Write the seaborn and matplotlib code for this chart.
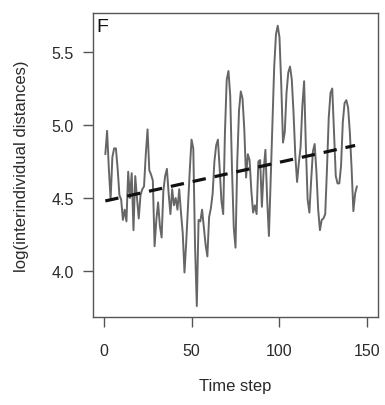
import numpy as np
import pandas as pd
import matplotlib
matplotlib.use("Agg")
import matplotlib.pyplot as plt
import seaborn as sns

# valores (paso de tiempo 1..144)
time_steps = list(range(1, 145))
log_dist = [
    4.80, 4.96, 4.70, 4.49, 4.78, 4.84, 4.84, 4.70, 4.52, 4.49,
    4.35, 4.42, 4.34, 4.68, 4.50, 4.67, 4.28, 4.65, 4.50, 4.36,
    4.52, 4.56, 4.58, 4.80, 4.97, 4.69, 4.66, 4.62, 4.17, 4.35,
    4.47, 4.31, 4.23, 4.55, 4.65, 4.70, 4.53, 4.39, 4.56, 4.45,
    4.50, 4.42, 4.56, 4.40, 4.26, 3.99, 4.20, 4.45, 4.69, 4.90,
    4.84, 4.17, 3.76, 4.35, 4.34, 4.42, 4.30, 4.18, 4.10, 4.37,
    4.43, 4.53, 4.75, 4.86, 4.90, 4.70, 4.48, 4.39, 4.95, 5.31,
    5.37, 5.20, 4.70, 4.30, 4.16, 4.75, 5.10, 5.23, 5.18, 4.97,
    4.64, 4.80, 4.76, 4.55, 4.40, 4.45, 4.39, 4.75, 4.76, 4.44,
    4.69, 4.83, 4.49, 4.24, 4.62, 5.00, 5.40, 5.62, 5.68, 5.60,
    5.28, 4.88, 4.95, 5.22, 5.36, 5.40, 5.31, 5.08, 4.79, 4.61,
    4.74, 4.85, 5.13, 5.30, 4.85, 4.49, 4.40, 4.62, 4.82, 4.87,
    4.68, 4.42, 4.28, 4.35, 4.36, 4.39, 4.70, 5.05, 5.22, 5.25,
    4.95, 4.65, 4.60, 4.60, 4.72, 5.02, 5.15, 5.17, 5.12, 4.95,
    4.70, 4.41, 4.53, 4.58,
]

# tendencia lineal (extremos)
trend_t = [1, 143]
trend_y = [4.48, 4.86]

x_ticks = [0, 50, 100, 150]
y_ticks = [4.0, 4.5, 5.0, 5.5]

sns.set_style("ticks")
plt.rcParams['font.family'] = ['Liberation Sans', 'DejaVu Sans']

df = pd.DataFrame({'t': time_steps, 'y': log_dist})
df_trend = pd.DataFrame({'t': trend_t, 'y': trend_y})

fig = plt.figure(figsize=(3.85, 4.06), dpi=100)
ax = fig.add_axes([0.2416, 0.2167, 0.7402, 0.7488])

sns.lineplot(data=df, x='t', y='y', ax=ax, color='#666666', linewidth=1.4)
sns.lineplot(data=df_trend, x='t', y='y', ax=ax, color='#111111',
             linewidth=2.3, linestyle=(0, (4.2, 2.8)))

ax.set_xlim(-6, 156)
ax.set_ylim(3.685, 5.767)
ax.set_xticks(x_ticks)
ax.set_xticklabels([str(v) for v in x_ticks])
ax.set_yticks(y_ticks)
ax.set_yticklabels([f"{v:.1f}" for v in y_ticks])

for s in ax.spines.values():
    s.set_visible(True)
    s.set_color('#555555')
    s.set_linewidth(1.0)

ax.tick_params(axis='both', direction='out', length=7, width=1.0,
               color='#555555', labelsize=11.5, labelcolor='#2a2a2a')
ax.tick_params(axis='x', pad=12)
ax.tick_params(axis='y', pad=7)

ax.set_xlabel("Time step", fontsize=12, color='#2a2a2a', labelpad=14)
ax.set_ylabel("log(interindividual distances)", fontsize=12, color='#2a2a2a', labelpad=16)

ax.text(0.012, 0.985, "F", transform=ax.transAxes, fontsize=14,
        va='top', ha='left', color='#111111')

fig.savefig("out.png", dpi=100)
plt.close(fig)
